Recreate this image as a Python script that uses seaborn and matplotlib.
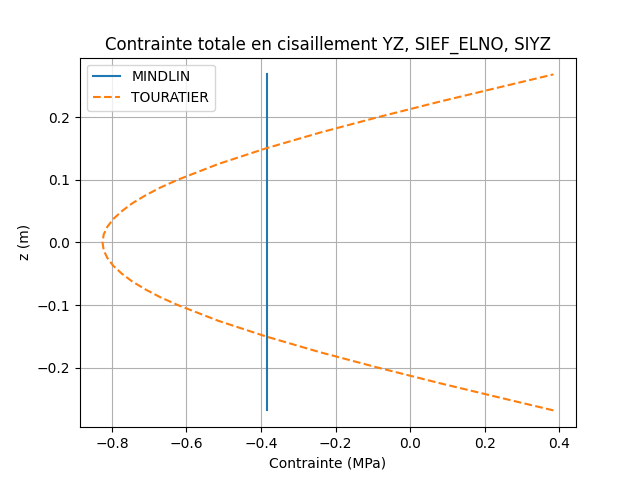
import matplotlib
matplotlib.use("Agg")
import matplotlib.pyplot as plt
import seaborn as sns
import pandas as pd

# Values
z_mindlin = [-0.268, 0.0, 0.268]
sig_mindlin = [-0.384, -0.384, -0.384]

z_touratier = [-0.268, -0.25, -0.225, -0.2, -0.175, -0.15, -0.125, -0.1, -0.0875,
               -0.075, -0.0625, -0.05, -0.0375, -0.025, -0.0125, 0.0,
               0.0125, 0.025, 0.0375, 0.05, 0.0625, 0.075, 0.0875, 0.1, 0.125,
               0.15, 0.175, 0.2, 0.225, 0.25, 0.268]
sig_touratier = [0.384, 0.257, 0.082, -0.085, -0.243, -0.387, -0.515, -0.623, -0.670,
                 -0.710, -0.745, -0.773, -0.796, -0.812, -0.822, -0.825,
                 -0.822, -0.812, -0.796, -0.773, -0.745, -0.710, -0.670, -0.623, -0.515,
                 -0.387, -0.243, -0.085, 0.082, 0.257, 0.384]

df_m = pd.DataFrame({'sig': sig_mindlin, 'z': z_mindlin})
df_t = pd.DataFrame({'sig': sig_touratier, 'z': z_touratier})

fig, ax = plt.subplots(figsize=(6.4, 4.8), dpi=100)

sns.lineplot(data=df_m, x='sig', y='z', sort=False, estimator=None,
             color='C0', label='MINDLIN', ax=ax)
sns.lineplot(data=df_t, x='sig', y='z', sort=False, estimator=None,
             color='C1', linestyle='--', label='TOURATIER', ax=ax)

ax.set_title('Contrainte totale en cisaillement YZ, SIEF_ELNO, SIYZ')
ax.set_xlabel('Contrainte (MPa)')
ax.set_ylabel('z (m)')
ax.grid(True)
ax.legend(loc='upper left')

fig.savefig('out.png', dpi=100)
